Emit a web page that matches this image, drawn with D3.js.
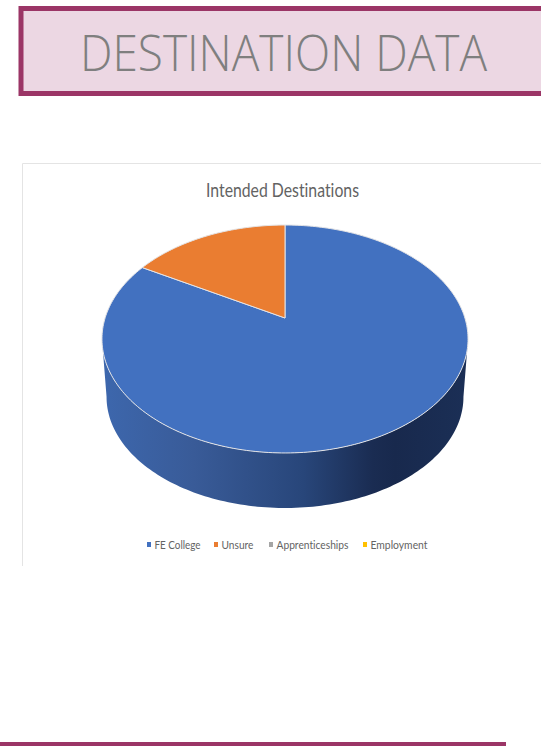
<!DOCTYPE html>
<html>
<head>
<meta charset="utf-8">
<script src="https://cdn.jsdelivr.net/npm/d3@7/dist/d3.min.js"></script>
<style>
html,body{margin:0;padding:0;background:#fff;overflow:hidden}
svg{display:block}
text{font-variant-ligatures:none}
</style>
</head>
<body>
<svg id="page" width="541" height="746"></svg>
<script>
const bannerText = "DESTINATION DATA";
const chartTitle = "Intended Destinations";
const categories = ["FE College", "Unsure", "Apprenticeships", "Employment"];
const values = [5, 1, 0, 0];
const colors = ["#4271c0", "#ea7d31", "#a5a5a5", "#ffc000"];
const legendX = [147, 214, 269, 363];
const wallStops = [
  [0, "#3d67ad"], [0.25, "#395b98"], [0.55, "#28467a"], [0.74, "#1a2c52"], [0.8, "#18294d"], [1, "#1b2f56"]
];

const svg = d3.select("#page");
const fontStack = "Lato, 'Open Sans', sans-serif";

// Banner
svg.append("rect").attr("x", 21).attr("y", 8.5).attr("width", 530).attr("height", 85)
  .attr("fill", "#ecd7e3").attr("stroke", "#9b3566").attr("stroke-width", 5);
svg.append("text").attr("x", 283.5).attr("y", 71)
  .attr("text-anchor", "middle").attr("font-family", "'Open Sans', Lato, sans-serif").attr("font-weight", 300)
  .attr("font-size", 49).attr("fill", "#7f7f7f")
  .attr("textLength", 407).attr("lengthAdjust", "spacingAndGlyphs").text(bannerText);

// Chart frame: only the top and left hairlines are in view
svg.append("path").attr("d", "M22.5,566V163.5H541").attr("fill", "none")
  .attr("stroke", "#e4e4e4").attr("stroke-width", 1);

svg.append("text").attr("x", 282.5).attr("y", 197)
  .attr("text-anchor", "middle").attr("font-family", fontStack)
  .attr("font-size", 19).attr("fill", "#636363")
  .attr("textLength", 153).attr("lengthAdjust", "spacingAndGlyphs").text(chartTitle);

// Tilted disc: a perspective mapping of the unit circle onto the page
const cx = 285, apexY = 318, depth = 0.1842, sx = 179.9, sy = 110.1;
const project = (angle, scale = 1, y0 = apexY) => {
  const u = Math.sin(angle), v = Math.cos(angle), w = 1 + depth * v;
  return [cx + scale * sx * u / w, y0 - scale * sy * v / w];
};
const line = d3.line();
const sweep = (a0, a1, scale, y0) => {
  const n = Math.max(2, Math.ceil(Math.abs(a1 - a0) / 0.02));
  return d3.range(n + 1).map(i => project(a0 + (a1 - a0) * i / n, scale, y0));
};

const arcs = d3.pie().sort(null).startAngle(0).endAngle(2 * Math.PI)(values);

// Rim of the disc, shaded from left to right
const grad = svg.append("defs").append("linearGradient").attr("id", "rim")
  .attr("gradientUnits", "userSpaceOnUse")
  .attr("x1", 102).attr("x2", 468).attr("y1", 0).attr("y2", 0);
wallStops.forEach(s => grad.append("stop").attr("offset", s[0]).attr("stop-color", s[1]));

const edge = Math.acos(-depth);
const baseScale = 0.975, baseY = 376.4;
const rimPoints = sweep(edge, 2 * Math.PI - edge, 1, apexY)
  .concat(sweep(2 * Math.PI - edge, edge, baseScale, baseY));
svg.append("path").attr("d", line(rimPoints) + "Z").attr("fill", "url(#rim)");

// Top face slices
svg.append("g").selectAll("path")
  .data(arcs.filter(d => d.value > 0))
  .join("path")
  .attr("d", d => line([[cx, apexY], ...sweep(d.startAngle, d.endAngle, 1, apexY)]) + "Z")
  .attr("fill", d => colors[d.index])
  .attr("stroke", "#e4e4e6").attr("stroke-width", 1).attr("stroke-linejoin", "round");

// Legend
const legend = svg.append("g").selectAll("g").data(categories).join("g")
  .attr("transform", (d, i) => `translate(${legendX[i]},0)`);
legend.append("rect").attr("x", 0).attr("y", 542).attr("width", 4).attr("height", 5)
  .attr("fill", (d, i) => colors[i]);
legend.append("text").attr("x", 7.5).attr("y", 549)
  .attr("font-family", fontStack).attr("font-size", 12).attr("fill", "#636363")
  .attr("textLength", (d, i) => [46, 32, 72, 57][i]).attr("lengthAdjust", "spacingAndGlyphs")
  .text(d => d);

// Footer rule
svg.append("rect").attr("x", 0).attr("y", 742).attr("width", 506).attr("height", 4)
  .attr("fill", "#9b3566");
</script>
</body>
</html>
